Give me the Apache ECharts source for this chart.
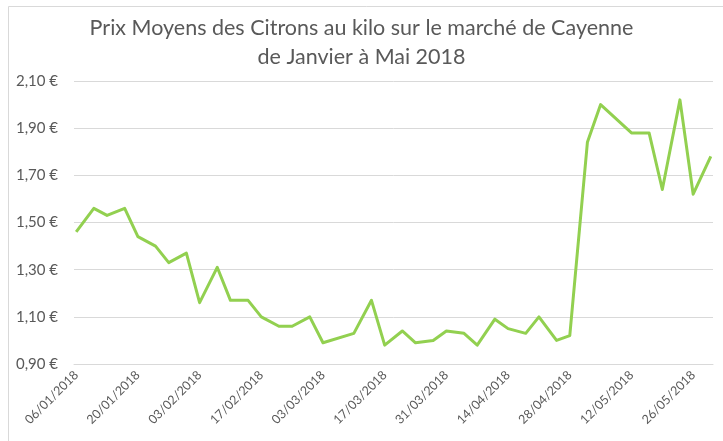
<!DOCTYPE html>
<html>
<head>
<meta charset="utf-8">
<script src="https://cdn.jsdelivr.net/npm/echarts@6/dist/echarts.min.js"></script>
<style>
  html, body { margin: 0; padding: 0; background: #fff; }
  #chart { width: 723px; height: 441px; }
</style>
</head>
<body>
<div id="chart"></div>
<script>
// jours de marché (mercredi / samedi) et prix relevés
const dates = [
  '06/01/2018', '10/01/2018', '13/01/2018', '17/01/2018', '20/01/2018', '24/01/2018', '27/01/2018', '31/01/2018',
  '03/02/2018', '07/02/2018', '10/02/2018', '14/02/2018', '17/02/2018', '21/02/2018', '24/02/2018', '28/02/2018',
  '03/03/2018', '10/03/2018', '14/03/2018', '17/03/2018', '21/03/2018', '24/03/2018', '28/03/2018', '31/03/2018',
  '04/04/2018', '07/04/2018', '11/04/2018', '14/04/2018', '18/04/2018', '21/04/2018', '25/04/2018', '28/04/2018',
  '02/05/2018', '05/05/2018', '12/05/2018', '16/05/2018', '19/05/2018', '23/05/2018', '26/05/2018', '30/05/2018'
];
const prices = [
  1.46, 1.56, 1.53, 1.56, 1.44, 1.40, 1.33, 1.37,
  1.16, 1.31, 1.17, 1.17, 1.10, 1.06, 1.06, 1.10,
  0.99, 1.03, 1.17, 0.98, 1.04, 0.99, 1.00, 1.04,
  1.03, 0.98, 1.09, 1.05, 1.03, 1.10, 1.00, 1.02,
  1.84, 2.00, 1.88, 1.88, 1.64, 2.02, 1.62, 1.78
];
const yTicks = [0.90, 1.10, 1.30, 1.50, 1.70, 1.90, 2.10];

// axe date : un jour par catégorie (comme l'axe chronologique d'Excel)
const pad = n => (n < 10 ? '0' : '') + n;
const days = [];
for (let d = new Date(Date.UTC(2018, 0, 6)); d <= new Date(Date.UTC(2018, 4, 30)); d.setUTCDate(d.getUTCDate() + 1)) {
  days.push(pad(d.getUTCDate()) + '/' + pad(d.getUTCMonth() + 1) + '/' + d.getUTCFullYear());
}
const seriesData = days.map(day => {
  const i = dates.indexOf(day);
  return i >= 0 ? prices[i] : null;
});

const chart = echarts.init(document.getElementById('chart'));
const grey = '#595959';

chart.setOption({
  animation: false,
  backgroundColor: '#fff',
  title: {
    text: 'Prix Moyens des Citrons au kilo sur le marché de Cayenne\nde Janvier à Mai 2018',
    left: 'center',
    top: 9,
    textStyle: {
      fontFamily: 'Lato',
      fontSize: 21.5,
      fontWeight: 'normal',
      color: grey,
      lineHeight: 29
    }
  },
  graphic: [{
    type: 'rect',
    shape: { x: 8.5, y: 6.5, width: 800, height: 500 },
    style: { fill: 'none', stroke: '#d9d9d9', lineWidth: 1 },
    silent: true
  }],
  grid: { left: 74, right: 10, top: 81, bottom: 77 },
  xAxis: {
    type: 'category',
    data: days,
    boundaryGap: true,
    axisLine: { lineStyle: { color: '#d9d9d9', width: 1 } },
    axisTick: { show: false },
    axisLabel: {
      interval: 13,
      rotate: 45,
      margin: 9,
      fontFamily: 'Lato',
      fontSize: 12.5,
      color: grey
    }
  },
  yAxis: {
    type: 'value',
    min: yTicks[0],
    max: yTicks[yTicks.length - 1],
    interval: 0.2,
    axisLine: { show: false },
    axisTick: { show: false },
    splitLine: { lineStyle: { color: '#d9d9d9', width: 1 } },
    axisLabel: {
      margin: 16,
      fontFamily: 'Lato',
      fontSize: 15,
      color: grey,
      formatter: v => v.toFixed(2).replace('.', ',') + ' €'
    }
  },
  series: [{
    type: 'line',
    data: seriesData,
    connectNulls: true,
    showSymbol: false,
    symbol: 'none',
    lineStyle: { color: '#92d050', width: 3, join: 'round' }
  }]
});
</script>
</body>
</html>
